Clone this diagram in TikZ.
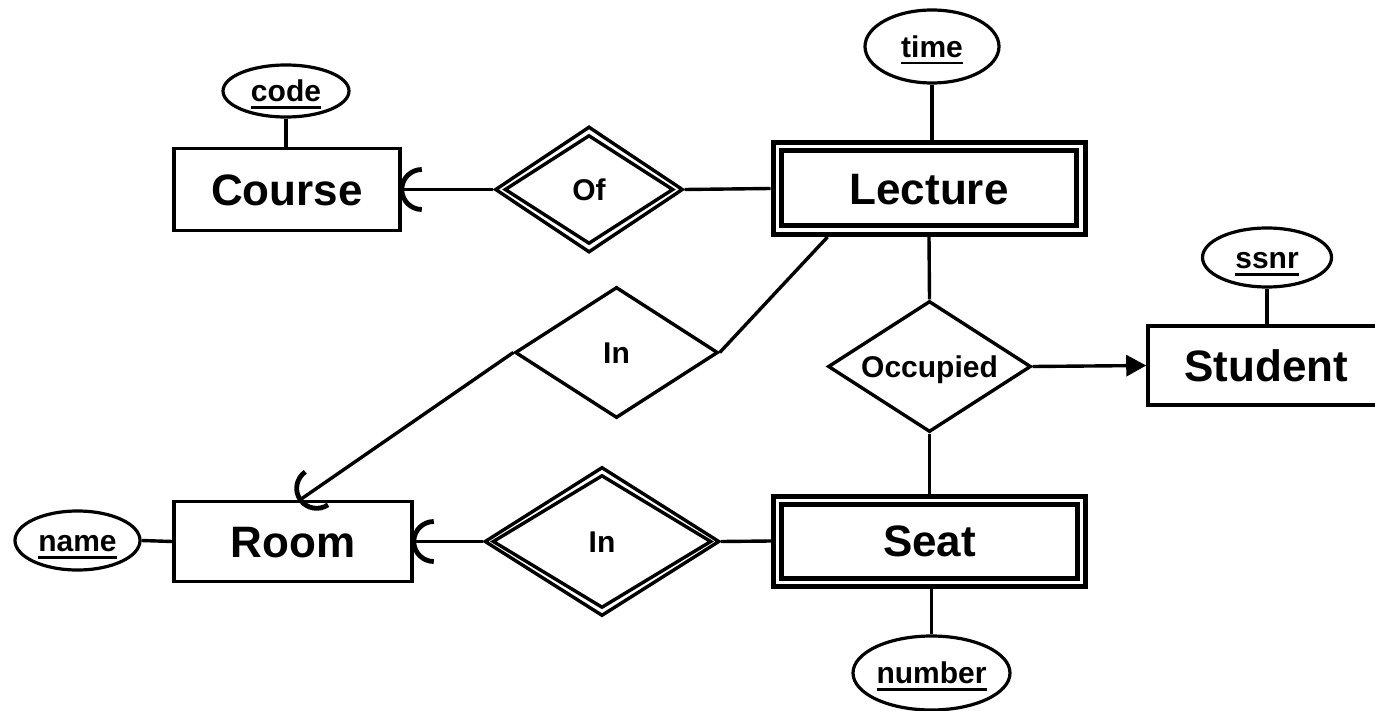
\documentclass[tikz,border=0pt]{standalone}
\usepackage{fontspec}
\setmainfont{Liberation Sans}
\usetikzlibrary{shapes.geometric, calc, arrows.meta, decorations.markings}

% key attribute: text with a thick rule beneath it
\newcommand{\keyattr}[1]{\setbox0=\hbox{#1}\rlap{\rule[-3.6pt]{\wd0}{1.4pt}}\box0}

\begin{document}
\begin{tikzpicture}[x=0.5pt, y=-0.5pt,
  conn/.style={line width=1.7pt},
  entity/.style={draw, rectangle, line width=1.8pt, inner sep=0pt,
    text height=15.8pt, text depth=0pt,
    font=\fontsize{22}{26}\selectfont\bfseries},
  weakentity/.style={entity, line width=2.5pt},
  weakline/.style={line width=2.5pt},
  rel/.style={draw, diamond, shape aspect=1.55, line width=1.7pt, inner sep=0pt,
    text height=10.8pt, text depth=0pt,
    font=\fontsize{15}{18}\selectfont\bfseries},
  attr/.style={draw, ellipse, line width=1.6pt, inner sep=0pt,
    text height=10.8pt, text depth=0pt,
    font=\fontsize{15}{18}\selectfont\bfseries},
  % half-ring drawn at the end of a connector, bulging towards the entity
  crowend/.style={postaction={decorate, decoration={markings,
    mark=at position 1 with {\draw[line width=2.4pt] (-20,20) arc[start angle=90, end angle=-90, radius=20];}}}}
]
\useasboundingbox (0,0) rectangle (1375,711);
\clip (0,0) rectangle (1375,711);
\fill[white] (0,0) rectangle (1375,711);

% entities
\node[entity, minimum width=113pt, minimum height=41pt] (course) at (287,189.5) {Course};
\node[entity, minimum width=119pt, minimum height=40pt] (room) at (293,541.5) {Room};
\node[entity, minimum width=118.5pt, minimum height=39.5pt] (student) at (1266.5,365.5) {Student};
\node[weakentity, minimum width=156pt, minimum height=46pt] (lec) at (929,188.5) {Lecture};
\node[weakentity, minimum width=156pt, minimum height=45pt] (seat) at (929.5,541) {Seat};
\draw[weakline] ($(lec.north west)+(11,11)$) rectangle ($(lec.south east)+(-11,-11)$);
\draw[weakline] ($(seat.north west)+(10.5,10.5)$) rectangle ($(seat.south east)+(-10.5,-10.5)$);

% relationships
\node[rel, minimum width=94pt, minimum height=63pt] (of) at (589,189.5) {Of};
\node[rel, minimum width=117.5pt, minimum height=74.5pt] (inB) at (602,541.5) {In};
\node[rel, minimum width=101.5pt, minimum height=65.5pt] (inA) at (616.5,352.5) {In};
\node[rel, minimum width=101.5pt, minimum height=65.5pt] (occ) at (929.5,366.5) {Occupied};
\draw[conn] ($(of.west)+(12,0)$) -- ($(of.north)+(0,11)$) -- ($(of.east)+(-12,0)$) -- ($(of.south)+(0,-11)$) -- cycle;
\draw[conn] ($(inB.west)+(10.5,0)$) -- ($(inB.north)+(0,10.5)$) -- ($(inB.east)+(-10.5,0)$) -- ($(inB.south)+(0,-10.5)$) -- cycle;

% attributes
\node[attr, minimum width=63pt, minimum height=26pt] (code) at (286,91) {\keyattr{code}};
\node[attr, minimum width=67pt, minimum height=36.5pt] (time) at (932,46.5) {\keyattr{time}};
\node[attr, minimum width=64.5pt, minimum height=29.5pt] (ssnr) at (1267,257.5) {\keyattr{ssnr}};
\node[attr, minimum width=62.5pt, minimum height=29.5pt] (name) at (77.5,540.5) {\keyattr{name}};
\node[attr, minimum width=78.5pt, minimum height=37pt] (number) at (931.5,673) {\keyattr{number}};

% connectors
\draw[conn] (code.south) -- (code.south |- course.north);
\draw[conn, crowend] (of.west) -- (course.east);
\draw[conn] (of.east) -- (lec.west);
\draw[conn] (time.south) -- (time.south |- lec.north);
\draw[conn] (inA.east) -- ($(lec.south west)+(57,0)$);
\draw[conn, crowend] (inA.west) -- ($(room.north west)+(128,0)$);
\draw[conn] (lec.south) -- (occ.north);
\draw[conn, -{Triangle[length=10pt, width=10.5pt]}] (occ.east) -- (student.west);
\draw[conn] (occ.south) -- (seat.north);
\draw[conn] (ssnr.south) -- (ssnr.south |- student.north);
\draw[conn] (name.east) -- (room.west);
\draw[conn, crowend] (inB.west) -- (room.east);
\draw[conn] (inB.east) -- (seat.west);
\draw[conn] (number.north |- seat.south) -- (number.north);
\end{tikzpicture}
\end{document}
